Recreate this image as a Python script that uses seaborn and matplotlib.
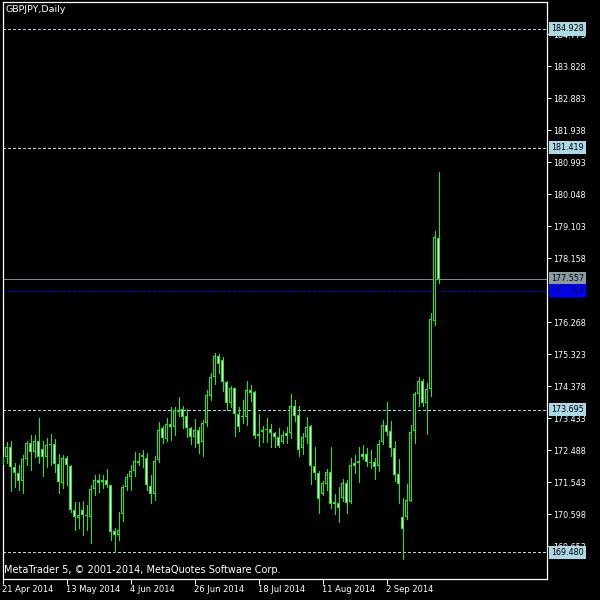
import numpy as np
import pandas as pd
import matplotlib
matplotlib.use("Agg")
import matplotlib.pyplot as plt
import matplotlib.transforms as mtransforms
import seaborn as sns

symbol_title = "GBPJPY,Daily"
copyright_text = "MetaTrader 5, \u00a9 2001-2014, MetaQuotes Software Corp."

opens = [172.06, 172.30, 172.60, 172.01, 171.81, 171.58, 172.23, 172.70, 172.45, 172.77,
         172.52, 172.28, 172.64, 172.67, 172.08, 171.52, 172.25, 172.03, 170.73, 170.48,
         170.73, 170.58, 170.53, 171.34, 171.61, 171.56, 171.61, 171.46, 170.11, 170.00,
         170.61, 171.40, 171.69, 171.88, 172.18, 172.35, 172.27, 171.44, 171.19, 172.21,
         173.14, 172.83, 173.26, 173.17, 173.68, 173.70, 173.50, 173.16, 172.89, 173.09,
         172.73, 173.29, 174.10, 174.66, 175.28, 175.16, 174.52, 173.90, 174.32, 173.55,
         173.47, 173.47, 174.27, 174.22, 172.92, 173.04, 173.09, 173.11, 172.99, 172.89,
         172.75, 172.99, 172.99, 173.81, 173.53, 172.55, 172.87, 173.21, 172.04, 171.81,
         171.20, 171.50, 171.84, 170.90, 170.93, 171.07, 171.52, 170.97, 172.11, 172.11,
         172.38, 172.38, 172.13, 172.16, 172.03, 172.73, 173.24, 173.06, 172.55, 171.78,
         170.51, 170.51, 171.00, 173.07, 174.14, 174.54, 173.90, 174.29, 176.32, 178.75]
highs = [172.44, 172.75, 172.77, 172.11, 172.06, 172.35, 172.77, 172.94, 172.94, 173.44,
         172.77, 172.85, 172.97, 172.82, 172.37, 172.35, 172.33, 172.06, 170.97, 170.97,
         170.99, 170.88, 171.47, 171.76, 171.79, 171.76, 171.94, 171.47, 170.19, 170.68,
         171.47, 171.79, 172.06, 172.45, 172.40, 172.50, 172.40, 171.76, 172.33, 173.34,
         173.21, 173.45, 173.77, 173.77, 174.07, 173.80, 173.70, 173.19, 173.42, 173.19,
         173.39, 174.27, 174.78, 175.37, 175.33, 175.24, 174.55, 174.39, 174.34, 173.76,
         173.98, 174.54, 174.42, 174.24, 173.56, 173.21, 173.45, 173.26, 173.04, 173.16,
         173.06, 173.17, 174.15, 173.98, 173.81, 172.99, 173.48, 173.24, 172.60, 171.88,
         171.58, 171.94, 172.58, 171.20, 171.42, 171.64, 171.61, 172.25, 172.35, 172.60,
         172.65, 172.55, 172.50, 172.25, 172.80, 173.39, 173.91, 173.36, 172.77, 172.23,
         171.07, 171.50, 173.24, 174.20, 174.66, 174.60, 174.47, 176.54, 178.97, 180.70]
lows = [171.97, 172.11, 171.30, 171.42, 171.32, 171.22, 172.06, 171.91, 172.30, 172.13,
        171.73, 172.01, 172.06, 171.86, 171.22, 171.37, 171.47, 170.68, 170.14, 170.19,
        169.99, 170.14, 169.76, 171.17, 171.27, 171.37, 171.40, 169.84, 169.48, 169.84,
        170.41, 171.32, 171.32, 171.73, 172.06, 172.01, 171.32, 170.93, 171.02, 172.15,
        172.71, 172.77, 172.80, 172.94, 173.50, 173.15, 172.89, 172.68, 172.58, 172.42,
        172.33, 173.21, 173.98, 174.45, 174.78, 174.25, 173.68, 173.76, 172.91, 173.07,
        173.29, 173.24, 173.96, 172.85, 172.63, 172.75, 172.75, 172.58, 172.58, 172.60,
        172.70, 172.70, 172.86, 173.36, 172.32, 172.38, 172.72, 171.50, 171.64, 170.65,
        171.17, 171.32, 170.80, 170.60, 170.38, 170.98, 170.65, 170.94, 171.81, 171.56,
        172.23, 172.04, 171.96, 171.64, 171.89, 172.68, 172.94, 172.32, 171.59, 170.94,
        169.28, 170.45, 170.98, 172.72, 173.80, 173.80, 172.96, 174.10, 176.20, 177.44]
closes = [172.30, 172.58, 172.01, 171.81, 171.59, 172.23, 172.70, 172.45, 172.77, 172.30,
          172.28, 172.64, 172.68, 172.09, 171.56, 172.25, 172.05, 170.73, 170.51, 170.58,
          170.58, 170.55, 171.34, 171.61, 171.52, 171.61, 171.46, 170.09, 169.99, 170.14,
          171.40, 171.69, 171.88, 172.18, 172.11, 172.28, 171.46, 171.19, 172.18, 173.09,
          172.85, 173.26, 173.17, 173.68, 173.63, 173.48, 173.14, 172.89, 173.09, 172.67,
          173.29, 174.12, 174.66, 175.28, 175.03, 174.50, 173.90, 174.32, 173.55, 173.19,
          173.48, 174.27, 174.19, 172.92, 172.97, 173.09, 173.12, 172.99, 172.89, 172.63,
          172.94, 172.92, 173.81, 173.51, 172.50, 172.87, 173.19, 172.04, 171.83, 171.04,
          171.52, 171.84, 170.90, 170.96, 170.78, 171.52, 170.94, 172.06, 172.03, 172.18,
          172.30, 172.14, 172.16, 172.01, 172.68, 173.24, 173.04, 172.55, 171.76, 171.49,
          170.16, 171.02, 173.02, 174.15, 174.54, 173.90, 174.29, 176.36, 178.78, 177.557]

date_tick_index = [0, 16, 32, 48, 64, 80, 96]
date_tick_labels = ["21 Apr 2014", "13 May 2014", "4 Jun 2014", "26 Jun 2014",
                    "18 Jul 2014", "11 Aug 2014", "2 Sep 2014"]

# 177.213 is fully hidden under the blue price box in the reference
price_tick_labels = ["184.773", "183.828", "182.883", "181.938", "180.993", "180.048",
                     "179.103", "178.158", "176.268", "175.323", "174.378",
                     "173.433", "172.488", "171.543", "170.598", "169.653"]

level_lines = [184.928, 181.419, 173.695, 169.480]
bid_price = 177.557
blue_level = 177.204

df = pd.DataFrame({"open": opens, "high": highs, "low": lows, "close": closes})
df["bar"] = np.arange(len(df))
df["body_low"] = df[["open", "close"]].min(axis=1)
df["body_high"] = df[["open", "close"]].max(axis=1)
df["bearish"] = df["close"] < df["open"]

sns.set_theme(style="dark", rc={"axes.facecolor": "black", "figure.facecolor": "black",
                                "axes.edgecolor": "white", "axes.grid": False})
plt.rcParams["font.family"] = ["DejaVu Sans"]

W = H = 600
fig = plt.figure(figsize=(6, 6), dpi=100, facecolor="black")
ax = fig.add_axes([2.5 / W, 21 / H, 544.5 / W, 577 / H])
ax.set_facecolor("black")

ax.set_xlim(0, 136.125)
ax.set_ylim(168.692, 185.725)

GREEN = "#00ff00"
LIGHTBLUE = "#add8e6"
LW = 0.7

# one pixel expressed in price units (for the 1px candle outline)
px_price = (185.725 - 168.692) / 577.0

# level lines
for lv in level_lines:
    ax.axhline(lv, color=LIGHTBLUE, lw=LW, dashes=(2.2, 2.2), antialiased=False, zorder=1)
ax.axhline(blue_level, color="#0000ff", lw=LW, dashes=(2.2, 2.2), antialiased=False, zorder=1)
ax.axhline(bid_price, color="#778899", lw=LW, antialiased=False, zorder=1.5)

# wicks
ax.vlines(df["bar"], df["low"], df["high"], colors=GREEN, lw=LW, antialiased=False, zorder=2)
# body outline (3 px wide)
outer_h = np.maximum(df["body_high"] - df["body_low"], px_price)
ax.bar(df["bar"], outer_h, bottom=df["body_low"], width=0.75, color=GREEN,
       linewidth=0, antialiased=False, zorder=3)
# body fill (1 px wide): white for bearish, black for bullish
inner = df[(df["body_high"] - df["body_low"]) > 2.2 * px_price]
ax.bar(inner["bar"], inner["body_high"] - inner["body_low"] - 2 * px_price,
       bottom=inner["body_low"] + px_price, width=0.25,
       color=np.where(inner["bearish"], "white", "black"),
       linewidth=0, antialiased=False, zorder=4)

for s in ax.spines.values():
    s.set_color("white")
    s.set_linewidth(0.9)

ax.yaxis.tick_right()
ax.set_yticks([float(t) for t in price_tick_labels])
ax.set_yticklabels(price_tick_labels)
ax.tick_params(axis="y", colors="white", direction="out", length=3, width=0.75,
               pad=1.5, labelsize=5.8, right=True, left=False)

ax.set_xticks(date_tick_index)
ax.set_xticklabels(date_tick_labels)
ax.tick_params(axis="x", colors="white", direction="out", length=3.5, width=0.75,
               pad=0.5, labelsize=6, bottom=True)
for lbl in ax.get_xticklabels():
    lbl.set_horizontalalignment("left")
ax.grid(False)

trans = mtransforms.blended_transform_factory(ax.transAxes, ax.transData)
for lv in level_lines:
    ax.text(1.0075, lv, f"{lv:.3f}", transform=trans, fontsize=5.8, color="black",
            va="center", ha="left", clip_on=False, zorder=10,
            bbox=dict(boxstyle="square,pad=0.25", fc=LIGHTBLUE, ec="none"))
ax.text(1.0075, bid_price, f"{bid_price:.3f}", transform=trans, fontsize=5.8, color="black",
        va="center", ha="left", clip_on=False, zorder=10,
        bbox=dict(boxstyle="square,pad=0.25", fc="#8c9aa6", ec="none"))
ax.text(1.0075, blue_level, f"{blue_level:.3f}", transform=trans, fontsize=5.8, color="#000030",
        va="center", ha="left", clip_on=False, zorder=10,
        bbox=dict(boxstyle="square,pad=0.25", fc="#0000ff", ec="none"))

fig.text(6 / W, 1 - 9 / H, symbol_title, color="white", fontsize=6.8, va="center", ha="left")
fig.text(4 / W, 1 - 570 / H, copyright_text, color="white", fontsize=7.0, va="center", ha="left")

fig.savefig("out.png", dpi=100, facecolor="black")
